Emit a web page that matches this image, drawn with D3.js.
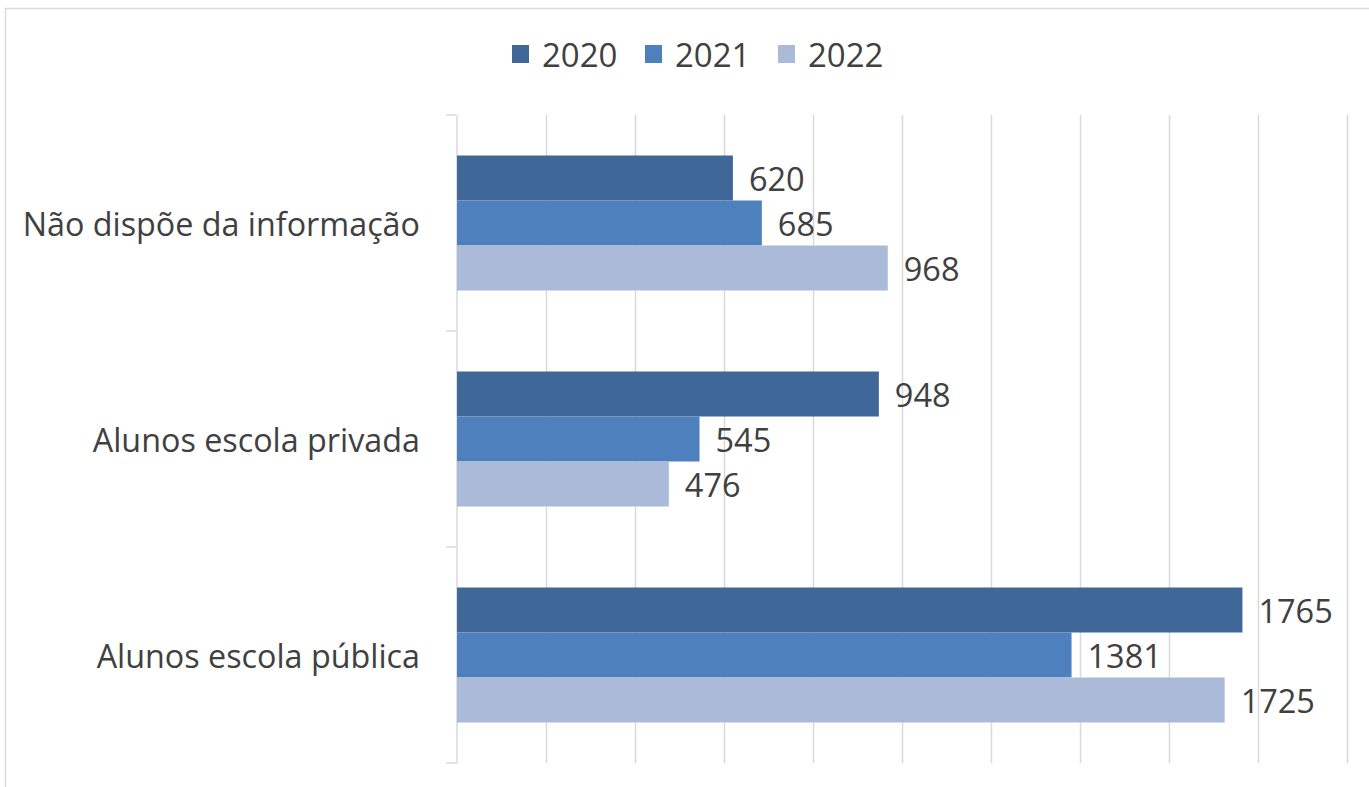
<!DOCTYPE html>
<html>
<head>
<meta charset="utf-8">
<script src="https://cdn.jsdelivr.net/npm/d3@7"></script>
<style>
  html, body { margin: 0; padding: 0; background: #fff; }
  svg { display: block; }
  text { font-family: "Open Sans", "Liberation Sans", sans-serif; fill: #404040; }
</style>
</head>
<body>
<svg id="chart" width="1369" height="787"></svg>
<script>
// Categories, top to bottom
const categories = ["Não dispõe da informação", "Alunos escola privada", "Alunos escola pública"];
const years = ["2020", "2021", "2022"];
const values2020 = [620, 948, 1765];
const values2021 = [685, 545, 1381];
const values2022 = [968, 476, 1725];
const xTicks = [0, 200, 400, 600, 800, 1000, 1200, 1400, 1600, 1800, 2000];
const colors = ["#3F6899", "#4D80BD", "#ABBAD8"];

const seriesValues = [values2020, values2021, values2022];
const rows = categories.map((c, i) => ({
  category: c,
  bars: years.map((y, j) => ({ year: y, value: seriesValues[j][i] }))
}));

const svg = d3.select("#chart");
const plot = { left: 457, right: 1347, top: 115, bottom: 763 };

const x = d3.scaleLinear().domain([0, 2000]).range([plot.left, plot.right]);
const y0 = d3.scaleBand().domain(categories).range([plot.top, plot.bottom]).padding(0);
const y1 = d3.scaleBand().domain(years).range([0, y0.bandwidth()]).paddingInner(0).paddingOuter(0.9);
const color = d3.scaleOrdinal().domain(years).range(colors);

// Outer frame
svg.append("line").attr("x1", 5).attr("x2", 1369).attr("y1", 8.5).attr("y2", 8.5)
  .attr("stroke", "#d9d9d9").attr("stroke-width", 1.5);
svg.append("line").attr("x1", 5.5).attr("x2", 5.5).attr("y1", 8).attr("y2", 787)
  .attr("stroke", "#d9d9d9").attr("stroke-width", 1.5);

// Vertical gridlines
svg.append("g")
  .selectAll("line")
  .data(xTicks.slice(1))
  .join("line")
  .attr("x1", d => Math.round(x(d)) + 0.5)
  .attr("x2", d => Math.round(x(d)) + 0.5)
  .attr("y1", plot.top)
  .attr("y2", plot.bottom)
  .attr("stroke", "#d9d9d9")
  .attr("stroke-width", 1.5);

// Category axis
const yAxis = d3.axisLeft(y0).tickSize(0).tickFormat("").tickSizeOuter(0);
const axisG = svg.append("g").attr("transform", `translate(${plot.left - 0.5},0)`).call(yAxis);
axisG.select(".domain").attr("stroke", "#d9d9d9").attr("stroke-width", 1.5);
// tick marks at band boundaries
const boundaries = categories.map(c => y0(c)).concat([y0.range()[1]]);
axisG.selectAll("line.bound")
  .data(boundaries)
  .join("line")
  .attr("class", "bound")
  .attr("x1", -10).attr("x2", 0)
  .attr("y1", d => d).attr("y2", d => d)
  .attr("stroke", "#d9d9d9").attr("stroke-width", 1.5);

// Category labels
svg.append("g")
  .selectAll("text")
  .data(categories)
  .join("text")
  .attr("x", plot.left - 37)
  .attr("y", d => y0(d) + y0.bandwidth() / 2)
  .attr("text-anchor", "end")
  .attr("dominant-baseline", "central")
  .attr("font-size", 32.3)
  .text(d => d);

// Bars
const groups = svg.append("g")
  .selectAll("g")
  .data(rows)
  .join("g")
  .attr("transform", d => `translate(0,${y0(d.category)})`);

groups.selectAll("rect")
  .data(d => d.bars)
  .join("rect")
  .attr("x", x(0))
  .attr("y", d => y1(d.year))
  .attr("width", d => x(d.value) - x(0))
  .attr("height", y1.bandwidth())
  .attr("fill", d => color(d.year));

groups.selectAll("text")
  .data(d => d.bars)
  .join("text")
  .attr("x", d => x(d.value) + 16)
  .attr("y", d => y1(d.year) + y1.bandwidth() / 2)
  .attr("dominant-baseline", "central")
  .attr("font-size", 32.5)
  .text(d => d.value);

// Legend
const legend = svg.append("g").attr("transform", "translate(512,54)");
const item = legend.selectAll("g")
  .data(years)
  .join("g")
  .attr("transform", (d, i) => `translate(${i * 133},0)`);
item.append("rect")
  .attr("x", 0).attr("y", -9)
  .attr("width", 17).attr("height", 18)
  .attr("fill", d => color(d));
item.append("text")
  .attr("x", 30)
  .attr("y", 0)
  .attr("dominant-baseline", "central")
  .attr("font-size", 33)
  .text(d => d);
</script>
</body>
</html>
